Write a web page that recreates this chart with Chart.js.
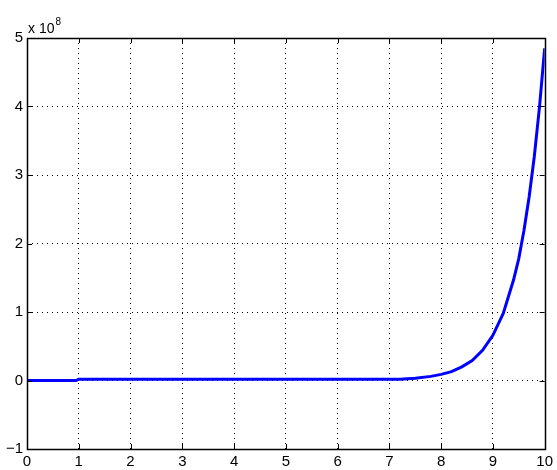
<!DOCTYPE html>
<html>
<head>
<meta charset="utf-8">
<script src="https://cdn.jsdelivr.net/npm/chart.js@4/dist/chart.umd.min.js"></script>
<style>
  html, body { margin: 0; padding: 0; background: #fff; }
  #wrap { width: 557px; height: 470px; }
</style>
</head>
<body>
<div id="wrap"><canvas id="myChart"></canvas></div>
<script>
// x values and y values (y in units of 1e8, as the axis says)
var xVals = [0, 0.95, 1, 2, 3, 4, 5, 6, 7, 7.2, 7.5, 7.8, 8, 8.2, 8.4, 8.6, 8.8, 9, 9.2, 9.4, 9.5, 9.6, 9.7, 9.8, 9.9, 10];
var yVals = [0, 0, 0.02, 0.02, 0.02, 0.02, 0.02, 0.02, 0.02, 0.02, 0.033, 0.06, 0.089, 0.13, 0.2, 0.29, 0.44, 0.66, 0.98, 1.47, 1.78, 2.19, 2.68, 3.27, 3.99, 4.85];
var xTicks = [0, 1, 2, 3, 4, 5, 6, 7, 8, 9, 10];
var yTicks = [-1, 0, 1, 2, 3, 4, 5];
var exponentLabel = 'x 10';
var exponentPower = '8';

var points = xVals.map(function (x, i) { return { x: x, y: yVals[i] }; });
var fontFamily = '"Liberation Sans", Arial, sans-serif';

// MATLAB style box, inward tick marks and the exponent label
var matlabBox = {
    id: 'matlabBox',
    afterDraw: function (chart) {
        var c = chart.ctx, a = chart.chartArea;
        var xs = chart.scales.x, ys = chart.scales.y;
        c.save();
        c.strokeStyle = '#000';
        c.lineWidth = 1;
        c.beginPath();
        xTicks.forEach(function (t) {
            var px = Math.round(xs.getPixelForValue(t)) + 0.5;
            c.moveTo(px, a.bottom); c.lineTo(px, a.bottom - 5);
            c.moveTo(px, a.top); c.lineTo(px, a.top + 5);
        });
        yTicks.forEach(function (t) {
            var py = Math.round(ys.getPixelForValue(t)) + 0.5;
            c.moveTo(a.left, py); c.lineTo(a.left + 5, py);
            c.moveTo(a.right, py); c.lineTo(a.right - 5, py);
        });
        c.stroke();
        c.lineWidth = 1.5;
        c.strokeRect(Math.round(a.left) + 0.5, Math.round(a.top) + 0.5,
            Math.round(a.right - a.left), Math.round(a.bottom - a.top));
        c.fillStyle = '#000';
        c.textBaseline = 'alphabetic';
        c.textAlign = 'left';
        c.font = '14px ' + fontFamily;
        c.fillText(exponentLabel, a.left + 1, a.top - 5);
        var w = c.measureText(exponentLabel).width;
        c.font = '10px ' + fontFamily;
        c.fillText(exponentPower, a.left + 2 + w, a.top - 13);
        c.restore();
    }
};

function edgeless(scaleMin, scaleMax) {
    return function (ctx) {
        var v = ctx.tick ? ctx.tick.value : null;
        return (v === scaleMin || v === scaleMax) ? 'rgba(0,0,0,0)' : '#000';
    };
}

var ctx = document.getElementById('myChart').getContext('2d');
var chart = new Chart(ctx, {
    type: 'line',
    data: {
        datasets: [{
            data: points,
            borderColor: '#0000ff',
            borderWidth: 3,
            pointRadius: 0,
            fill: false,
            tension: 0
        }]
    },
    options: {
        responsive: true,
        maintainAspectRatio: false,
        animation: false,
        layout: { padding: { top: 38, right: 10, left: 0, bottom: 0 } },
        plugins: { legend: { display: false }, tooltip: { enabled: false } },
        scales: {
            x: {
                type: 'linear',
                min: 0,
                max: 10,
                afterFit: function (s) { s.height = 21; },
                afterBuildTicks: function (s) { s.ticks = xTicks.map(function (v) { return { value: v }; }); },
                ticks: { color: '#000', font: { family: fontFamily, size: 15 }, padding: 4, maxRotation: 0 },
                grid: { color: edgeless(0, 10), lineWidth: 1, drawTicks: false },
                border: { display: false, dash: [1, 4] }
            },
            y: {
                min: -1,
                max: 5,
                afterFit: function (s) { s.width = 27; },
                afterBuildTicks: function (s) { s.ticks = yTicks.map(function (v) { return { value: v }; }); },
                ticks: {
                    color: '#000',
                    font: { family: fontFamily, size: 15 },
                    padding: 4,
                    callback: function (v) { return v < 0 ? '\u2212' + Math.abs(v) : String(v); }
                },
                grid: { color: edgeless(-1, 5), lineWidth: 1, drawTicks: false },
                border: { display: false, dash: [1, 4] }
            }
        }
    },
    plugins: [matlabBox]
});
</script>
</body>
</html>
